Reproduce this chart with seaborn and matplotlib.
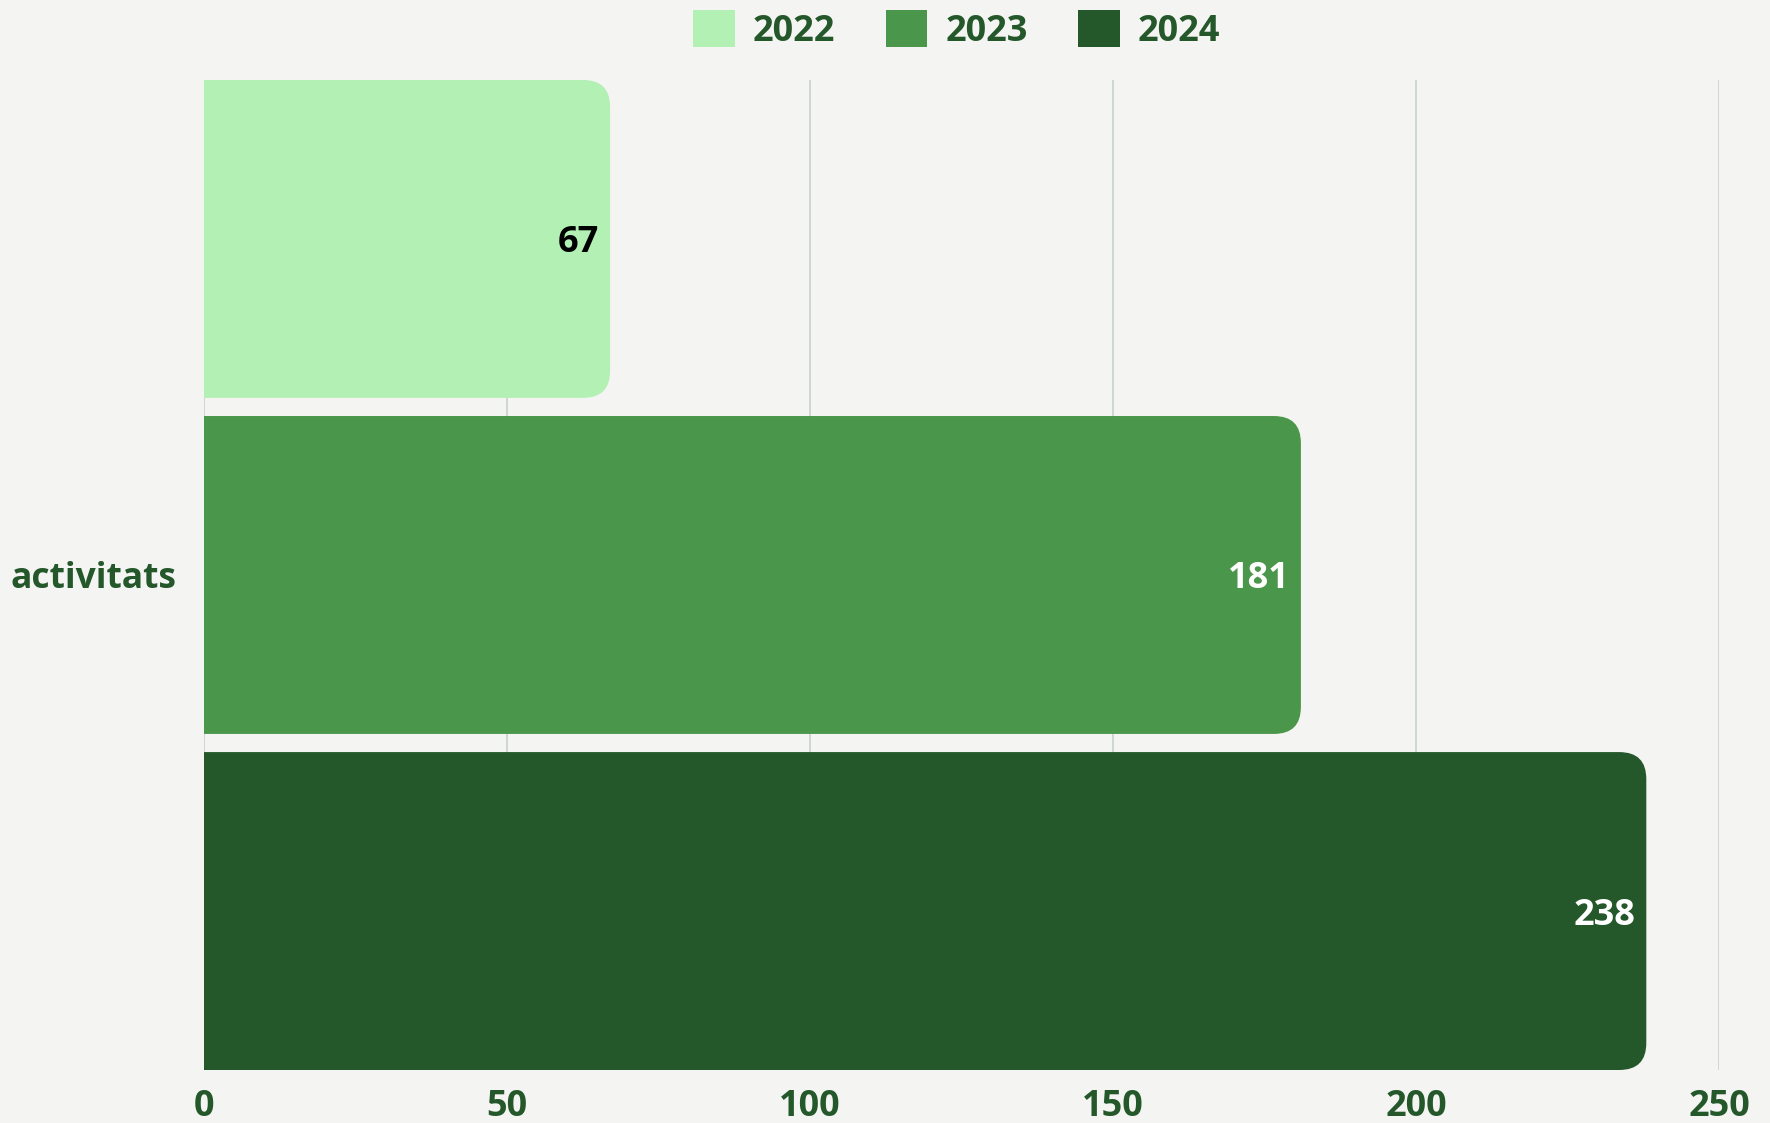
import pandas as pd
import seaborn as sns
import matplotlib.pyplot as plt
from matplotlib.patches import FancyBboxPatch, Patch

# Data
category = ["activitats"]
years = ["2022", "2023", "2024"]
values = [67, 181, 238]
bar_colors = ["#b3f0b3", "#4a964b", "#24572a"]
label_colors = ["#000000", "#ffffff", "#ffffff"]
x_ticks = [0, 50, 100, 150, 200, 250]

df = pd.DataFrame({
    "category": category * len(years),
    "year": years,
    "value": values,
})

text_green = "#24572a"
bg = "#f4f4f2"

sns.set_theme(style="white")
plt.rcParams["font.family"] = ["Open Sans", "DejaVu Sans"]
plt.rcParams["font.weight"] = "bold"

fig = plt.figure(figsize=(17.7, 11.23), dpi=100, facecolor=bg)
ax = fig.add_axes([0.1153, 0.0472, 0.9712 - 0.1153, 0.9288 - 0.0472])
ax.set_facecolor(bg)

sns.barplot(
    data=df, x="value", y="category", hue="year",
    palette=bar_colors, orient="h", width=1, gap=0.054,
    legend=False, ax=ax, saturation=1,
)

# bars fill the whole height of the axes
tops = [p.get_y() for p in ax.patches]
bottoms = [p.get_y() + p.get_height() for p in ax.patches]
ax.set_xlim(0, 250)
ax.set_ylim(max(bottoms), min(tops))
ax.set_xticks(x_ticks)
ax.grid(axis="x", color="#c9d0ce", linewidth=1.2)
ax.set_axisbelow(True)
for s in ax.spines.values():
    s.set_visible(False)

ax.tick_params(axis="both", length=0, labelsize=26, labelcolor=text_green)
ax.tick_params(axis="x", pad=14)
ax.tick_params(axis="y", pad=19.5, labelsize=25.5)
for t in ax.get_xticklabels() + ax.get_yticklabels():
    t.set_fontweight("bold")
ax.set_xlabel("")
ax.set_ylabel("")

# Replace bars with right-rounded boxes
fig.canvas.draw()
bbox = ax.get_window_extent()
xupp = 250 / bbox.width
yupp = (max(bottoms) - min(tops)) / bbox.height
r_px = 27
r = r_px * xupp
aspect = yupp / xupp

for i, p in enumerate(list(ax.patches)):
    x0, y0 = p.get_x(), p.get_y()
    w, h = p.get_width(), p.get_height()
    color = p.get_facecolor()
    p.set_visible(False)
    box = FancyBboxPatch(
        (x0 - 3 * r, y0), w + 3 * r, h,
        boxstyle=f"round,pad=0,rounding_size={r}",
        mutation_aspect=aspect,
        facecolor=color, edgecolor="none", zorder=3,
    )
    box.set_clip_path(ax.patch)
    ax.add_patch(box)
    ax.text(
        x0 + w - 11 * xupp, y0 + h / 2 + 4.5 * yupp, f"{values[i]}",
        ha="right", va="center", fontsize=26, fontweight="bold",
        color=label_colors[i], zorder=4,
    )

handles = [Patch(facecolor=c, edgecolor="none") for c in bar_colors]
leg = fig.legend(
    handles, years, loc="center", bbox_to_anchor=(0.5405, 0.973),
    ncol=3, frameon=False, fontsize=26, handlelength=1.15,
    handleheight=1.2, handletextpad=0.5, columnspacing=1.4,
)
for t in leg.get_texts():
    t.set_color(text_green)
    t.set_fontweight("bold")

plt.savefig("out.png", dpi=100, facecolor=bg)
